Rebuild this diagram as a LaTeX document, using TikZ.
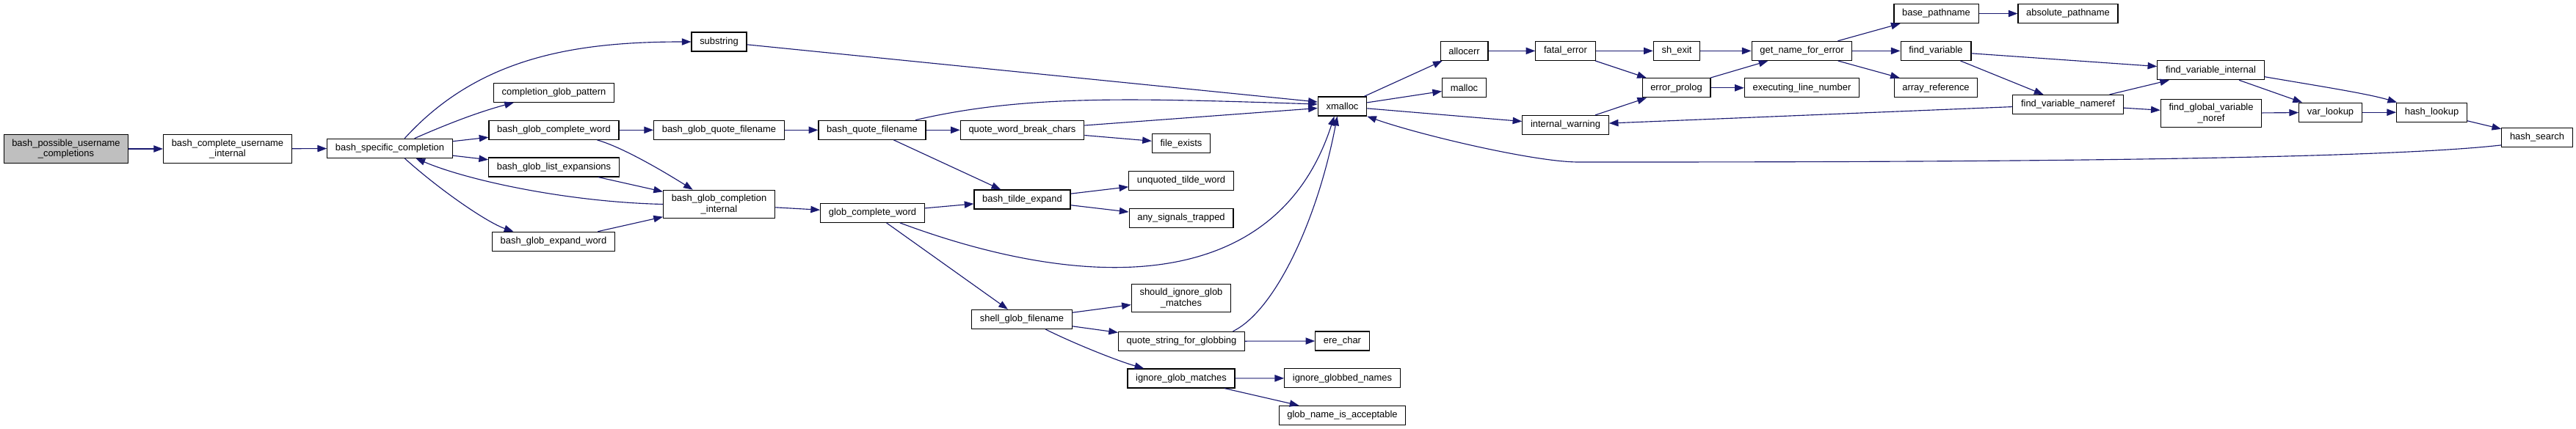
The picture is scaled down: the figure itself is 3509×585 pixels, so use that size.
\documentclass[tikz,border=0pt]{standalone}
\usepackage{fontspec}
\setmainfont{Liberation Sans}
\usetikzlibrary{arrows.meta}
\definecolor{edgeblue}{HTML}{191970}
\definecolor{rootgray}{HTML}{BFBFBF}

\begin{document}
\begin{tikzpicture}[
    x=0.75pt, y=-0.75pt,
    func/.style={draw=black, fill=white, rectangle, line width=0.9pt, minimum height=19.5pt, inner xsep=8.4pt, inner ysep=4.5pt, align=center, font=\fontsize{9.7}{10.9}\selectfont},
    root/.style={func, fill=rootgray},
    call/.style={draw=edgeblue, line width=0.85pt, -{Triangle[length=9.5pt, width=7pt]}}
]
\useasboundingbox (0,0) rectangle (3509,585);

% Completion entry
\node[root] (possible-completions) at (90, 203) {bash\_possible\_username\\\_completions};
\node[func] (complete-internal) at (310, 203) {bash\_complete\_username\\\_internal};
\node[func] (specific-completion) at (531, 202.3) {bash\_specific\_completion};

% Glob helpers
\node[func] (glob-pattern) at (754.5, 126.3) {completion\_glob\_pattern};
\node[func] (glob-complete-word) at (754.5, 177.3) {bash\_glob\_complete\_word};
\node[func] (glob-list) at (754.5, 228) {bash\_glob\_list\_expansions};
\node[func] (glob-expand) at (754, 329.3) {bash\_glob\_expand\_word};
\node[func] (substring) at (979.5, 57) {substring};
\node[func] (glob-quote) at (979.5, 177.3) {bash\_glob\_quote\_filename};
\node[func] (glob-internal) at (979.5, 278.5) {bash\_glob\_completion\\\_internal};
\node[func] (quote-filename) at (1188, 177.3) {bash\_quote\_filename};
\node[func] (complete-word) at (1188.5, 290.3) {glob\_complete\_word};
\node[func] (break-chars) at (1392.5, 177.3) {quote\_word\_break\_chars};
\node[func] (tilde-expand) at (1392.5, 272) {bash\_tilde\_expand};
\node[func] (shell-glob) at (1392, 435.4) {shell\_glob\_filename};
\node[func] (file-exists) at (1609, 195.7) {file\_exists};
\node[func] (tilde-word) at (1609, 246.3) {unquoted\_tilde\_word};
\node[func] (signals) at (1609, 297.4) {any\_signals\_trapped};
\node[func] (should-ignore) at (1609, 406.5) {should\_ignore\_glob\\\_matches};
\node[func] (quote-string) at (1609.5, 465.3) {quote\_string\_for\_globbing};
\node[func] (ignore-matches) at (1609, 516) {ignore\_glob\_matches};
\node[func] (ere-char) at (1828.5, 465) {ere\_char};
\node[func] (globbed-names) at (1828.5, 515.7) {ignore\_globbed\_names};
\node[func] (name-acceptable) at (1828.5, 566.5) {glob\_name\_is\_acceptable};

% Memory and errors
\node[func] (xmalloc) at (1828.5, 145) {xmalloc};
\node[func] (allocerr) at (1994.5, 69.4) {allocerr};
\node[func] (malloc) at (1994.5, 119.8) {malloc};
\node[func] (fatal-error) at (2132.5, 69.4) {fatal\_error};
\node[func] (internal-warning) at (2132.5, 170.5) {internal\_warning};
\node[func] (sh-exit) at (2284, 69.4) {sh\_exit};
\node[func] (error-prolog) at (2283.5, 119.8) {error\_prolog};
\node[func] (name-for-error) at (2454.5, 69.4) {get\_name\_for\_error};
\node[func] (line-number) at (2454.5, 119.8) {executing\_line\_number};
\node[func] (base-pathname) at (2637.5, 18.5) {base\_pathname};
\node[func] (find-variable) at (2637, 69.4) {find\_variable};
\node[func] (array-reference) at (2637, 119.8) {array\_reference};
\node[func] (absolute-pathname) at (2817, 18.5) {absolute\_pathname};
\node[func] (variable-nameref) at (2817, 142.5) {find\_variable\_nameref};

% Variable lookup
\node[func] (variable-internal) at (3011.5, 95.7) {find\_variable\_internal};
\node[func] (global-noref) at (3012, 154.5) {find\_global\_variable\\\_noref};
\node[func] (var-lookup) at (3174.5, 153.2) {var\_lookup};
\node[func] (hash-lookup) at (3312.5, 153.2) {hash\_lookup};
\node[func] (hash-search) at (3456, 187.5) {hash\_search};
\coordinate (search-turn) at (2150, 221);

% Calls
\draw[call] (possible-completions) -- (complete-internal);
\draw[call] (complete-internal) -- (specific-completion);
\draw[call] (specific-completion.34) .. controls +(100,-110) and +(-160,0) .. (substring.west);
\draw[call] (specific-completion.22) .. controls +(50,-22) and +(-45,12) .. (glob-pattern.194);
\draw[call] (specific-completion) -- (glob-complete-word);
\draw[call] (specific-completion) -- (glob-list);
\draw[call] (specific-completion.-34) .. controls +(50,45) and +(-35,-12) .. (glob-expand.166);
\draw[call] (glob-internal.west) .. controls +(-130,-3) and +(70,30) .. (specific-completion.-21);
\draw[call] (glob-complete-word) -- (glob-quote);
\draw[call] (glob-complete-word.-13) .. controls +(35,10) and +(-40,-25) .. (glob-internal.151);
\draw[call] (glob-list) -- (glob-internal);
\draw[call] (glob-expand) -- (glob-internal);
\draw[call] (glob-internal) -- (complete-word);
\draw[call] (glob-quote) -- (quote-filename);
\draw[call] (quote-filename) -- (break-chars);
\draw[call] (quote-filename.13) .. controls +(150,-35) and +(-250,-8) .. (xmalloc.175);
\draw[call] (quote-filename) -- (tilde-expand);
\draw[call] (break-chars) -- (xmalloc);
\draw[call] (break-chars) -- (file-exists);
\draw[call] (substring) -- (xmalloc.170);
\draw[call] (tilde-expand) -- (tilde-word);
\draw[call] (tilde-expand) -- (signals);
\draw[call] (complete-word) -- (tilde-expand);
\draw[call] (complete-word.-20) .. controls +(257.5,96) and +(-78,242) .. (xmalloc.-129);
\draw[call] (complete-word) -- (shell-glob);
\draw[call] (shell-glob) -- (should-ignore);
\draw[call] (shell-glob) -- (quote-string);
\draw[call] (shell-glob.-23) .. controls +(40,20) and +(-35,-10) .. (ignore-matches.165);
\draw[call] (quote-string.11) .. controls +(57,-27.6) and +(-27,142) .. (xmalloc.-117);
\draw[call] (quote-string) -- (ere-char);
\draw[call] (ignore-matches) -- (globbed-names);
\draw[call] (ignore-matches) -- (name-acceptable);
\draw[call] (xmalloc) -- (allocerr);
\draw[call] (xmalloc) -- (malloc);
\draw[call] (xmalloc) -- (internal-warning);
\draw[call] (allocerr) -- (fatal-error);
\draw[call] (fatal-error) -- (sh-exit);
\draw[call] (fatal-error) -- (error-prolog);
\draw[call] (internal-warning) -- (error-prolog);
\draw[call] (variable-nameref) -- (internal-warning);
\draw[call] (sh-exit) -- (name-for-error);
\draw[call] (error-prolog) -- (name-for-error);
\draw[call] (error-prolog) -- (line-number);
\draw[call] (name-for-error) -- (base-pathname);
\draw[call] (name-for-error) -- (find-variable);
\draw[call] (name-for-error) -- (array-reference);
\draw[call] (base-pathname) -- (absolute-pathname);
\draw[call] (find-variable) -- (variable-internal);
\draw[call] (find-variable) -- (variable-nameref);
\draw[call] (variable-nameref) -- (variable-internal);
\draw[call] (variable-nameref) -- (global-noref);
\draw[call] (variable-internal) -- (var-lookup);
\draw[call] (variable-internal.-7) .. controls +(70,12) and +(-40,-12) .. (hash-lookup.164);
\draw[call] (global-noref) -- (var-lookup);
\draw[call] (var-lookup) -- (hash-lookup);
\draw[call] (hash-lookup) -- (hash-search);
\draw[call] (hash-search.192) .. controls +(-200,23) and +(350,0) .. (search-turn)
    .. controls +(-60,0) and +(70,25) .. (xmalloc.south east);

\end{tikzpicture}
\end{document}
